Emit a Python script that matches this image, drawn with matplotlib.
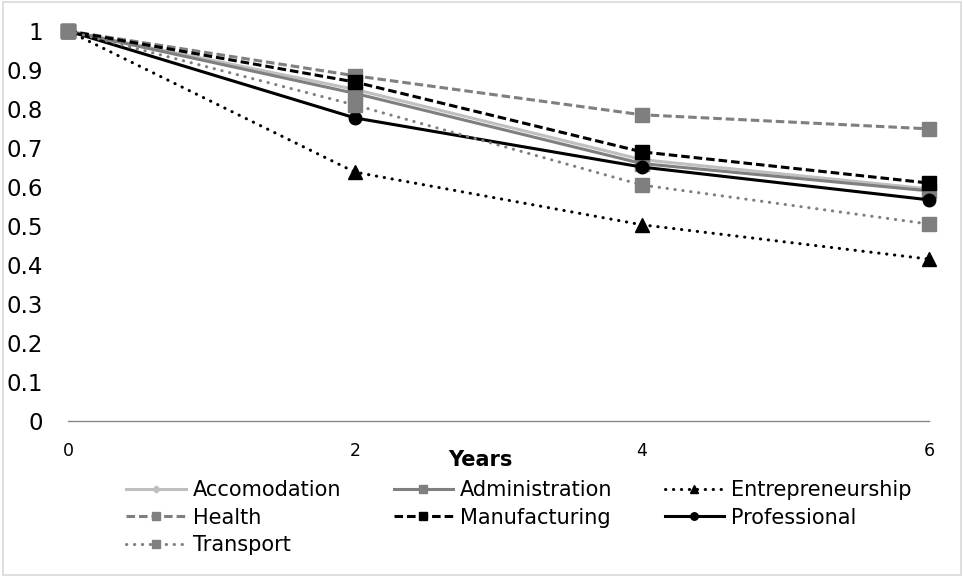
import matplotlib
matplotlib.use("Agg")
import matplotlib.pyplot as plt
from matplotlib.patches import Rectangle

# Years since start
years = [0, 2, 4, 6]

# Survival share per sector
accomodation = [1.0, 0.85, 0.67, 0.595]
administration = [1.0, 0.84, 0.66, 0.59]
entrepreneurship = [1.0, 0.638, 0.503, 0.415]
health = [1.0, 0.885, 0.785, 0.749]
manufacturing = [1.0, 0.869, 0.69, 0.61]
professional = [1.0, 0.777, 0.651, 0.567]
transport = [1.0, 0.81, 0.605, 0.505]

yticks = [0, 0.1, 0.2, 0.3, 0.4, 0.5, 0.6, 0.7, 0.8, 0.9, 1]
yticklabels = ["0", "0.1", "0.2", "0.3", "0.4", "0.5", "0.6", "0.7", "0.8", "0.9", "1"]

plt.rcParams["font.family"] = ["DejaVu Sans"]

fig = plt.figure(figsize=(9.64, 5.77), dpi=100)
ax = fig.add_axes([0.0705, 0.2704, 0.893, 0.676])

light = "#BFBFBF"
grey = "#7F7F7F"
black = "#000000"
lw = 2.2
dash = (0, (2.8, 1.3))
dot = (0, (0.1, 2.5))

series = [
    ("Accomodation", accomodation, dict(color=light, ls="-", marker="D", ms=6)),
    ("Administration", administration, dict(color=grey, ls="-", marker="s", ms=9.5)),
    ("Entrepreneurship", entrepreneurship, dict(color=black, ls=dot, marker="^", ms=10)),
    ("Health", health, dict(color=grey, ls=dash, marker="s", ms=9.5)),
    ("Manufacturing", manufacturing, dict(color=black, ls=dash, marker="s", ms=9.5)),
    ("Professional", professional, dict(color=black, ls="-", marker="o", ms=9)),
    ("Transport", transport, dict(color=grey, ls=dot, marker="s", ms=9.5)),
]

handles = {}
for name, vals, st in series:
    h, = ax.plot(years, vals, lw=lw, clip_on=False, label=name,
                 dash_capstyle="round" if st["ls"] is dot else "butt", **st)
    handles[name] = h

ax.set_xlim(0, 6)
ax.set_ylim(0, 1)
ax.set_xticks(years)
ax.set_xticklabels([str(y) for y in years], fontsize=12.5)
ax.set_yticks(yticks)
ax.set_yticklabels(yticklabels, fontsize=16.5)
ax.tick_params(axis="y", length=0, pad=18)
ax.tick_params(axis="x", length=0, pad=15)
for s in ["top", "right", "left"]:
    ax.spines[s].set_visible(False)
ax.spines["bottom"].set_color("#868686")
ax.spines["bottom"].set_linewidth(1)

fig.text(0.498, 0.203, "Years", fontsize=15, fontweight="bold", ha="center", va="center")

# legend is filled column by column, so reorder to read row by row
order = ["Accomodation", "Health", "Transport", "Administration", "Manufacturing",
         "Entrepreneurship", "Professional"]
fig.legend([handles[n] for n in order], order, loc="upper left",
           bbox_to_anchor=(0.131, 0.168), ncol=3, frameon=False, fontsize=15,
           handlelength=2.85, handletextpad=0.35, columnspacing=2.5,
           labelspacing=0.36, borderaxespad=0, borderpad=0, markerscale=0.6)

fig.patches.append(Rectangle((0.003, 0.003), 0.994, 0.994, transform=fig.transFigure,
                             fill=False, edgecolor="#D9D9D9", lw=1.2))

fig.savefig("out.png", dpi=100)
